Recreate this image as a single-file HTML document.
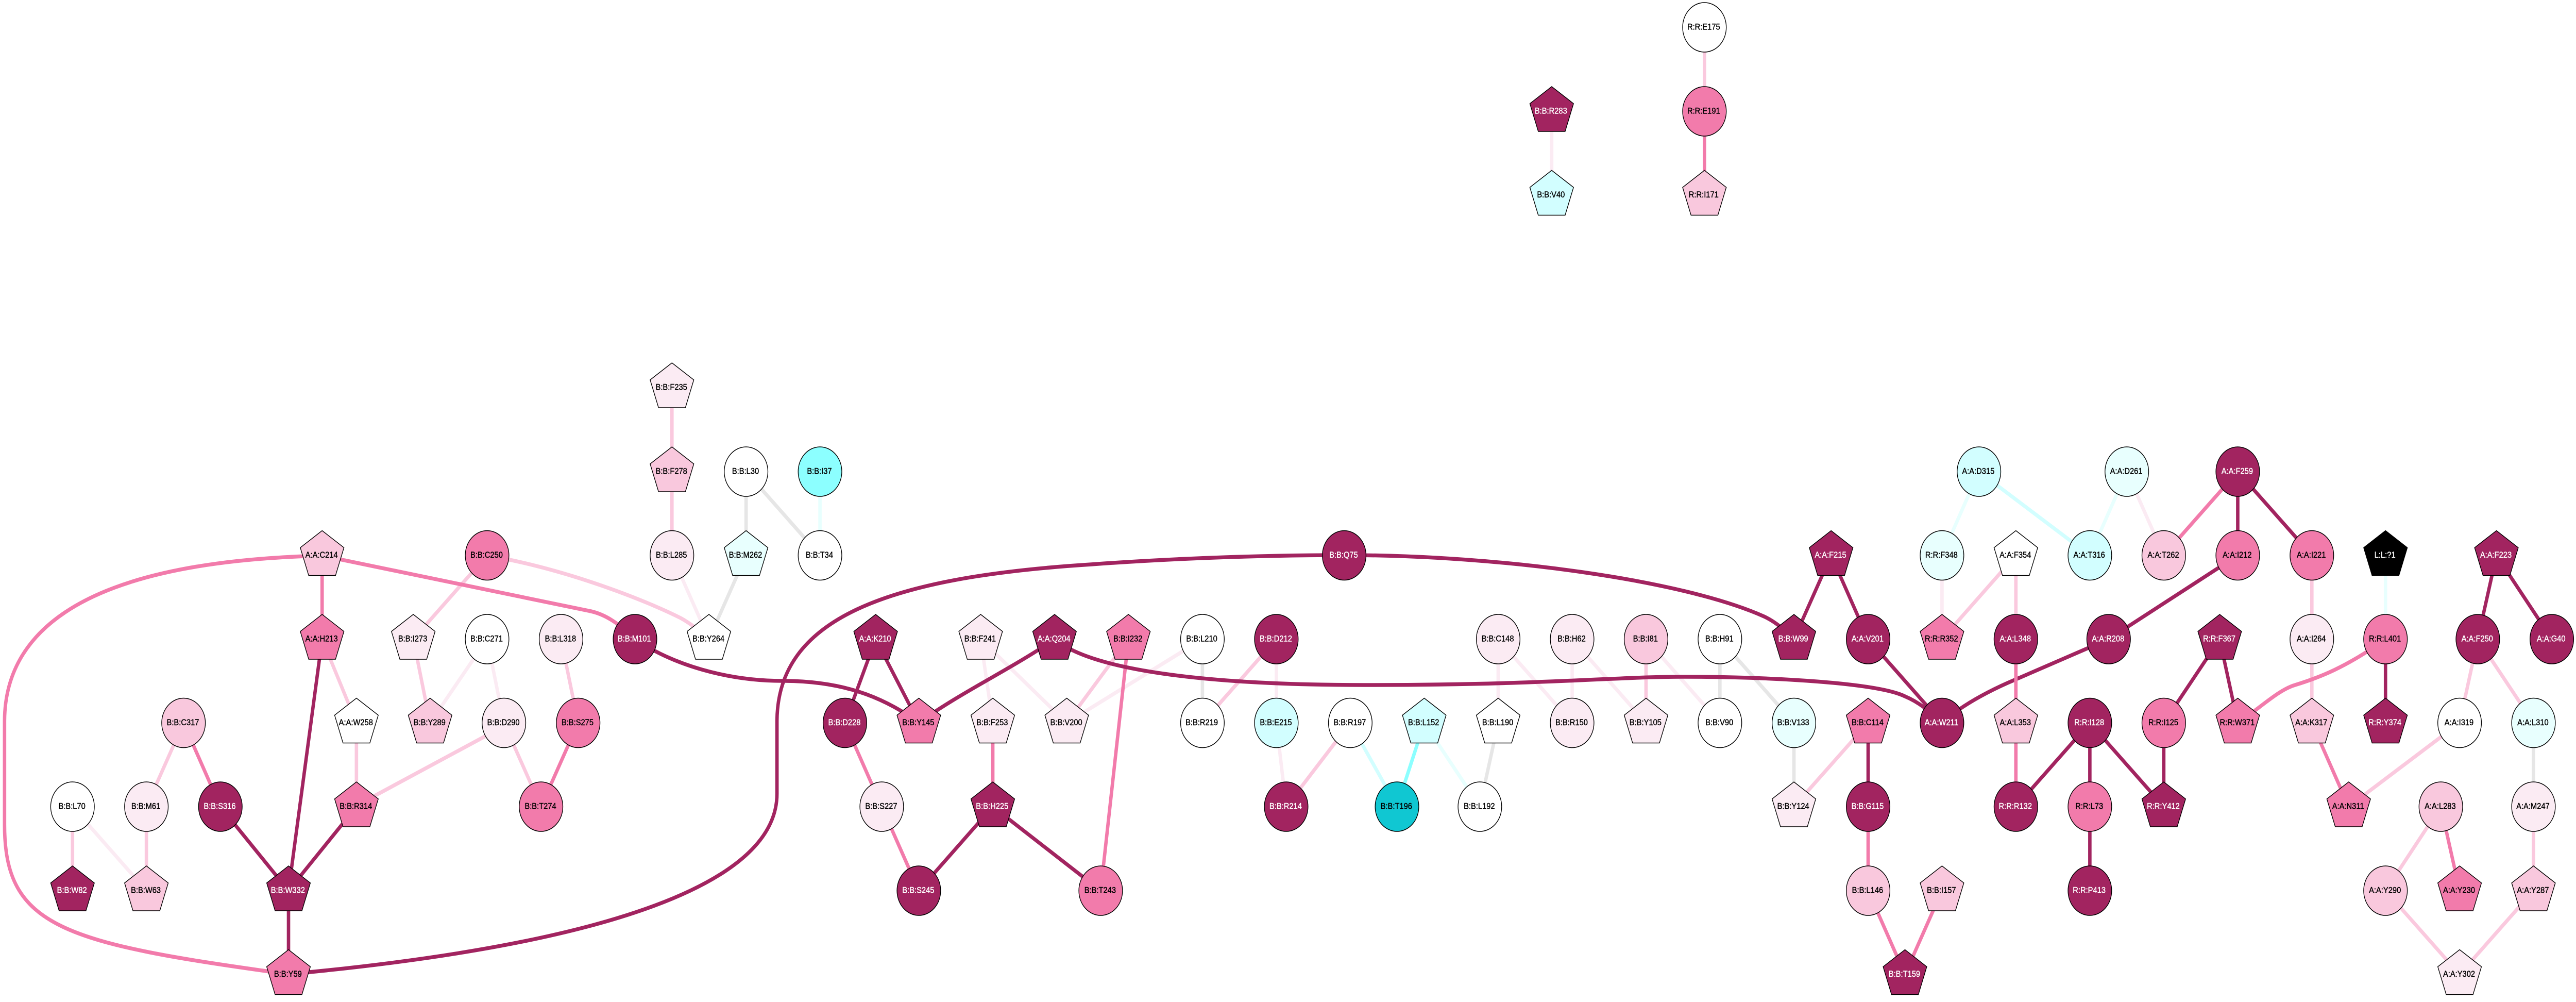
<!DOCTYPE html>
<html><head><meta charset="utf-8"><title>Residue network</title>
<style>
html,body{margin:0;padding:0;background:#fff;width:100%;height:100%;overflow:hidden}
svg{display:block;width:100%;height:100%}
path.e{fill:none;stroke-width:7.5}
.sg{stroke:#e6e6e6}.se{stroke:#e8fffe}.sc{stroke:#d2feff}.sb{stroke:#8cffff}.sv{stroke:#fbebf3}.sl{stroke:#fac9de}.sm{stroke:#f27bab}.sd{stroke:#a22460}
.n use,.n circle{stroke:#000;stroke-width:1.5}
.d{fill:#a22460}.m{fill:#f27bab}.l{fill:#f9c8dd}.v{fill:#fbebf3}.w{fill:#fff}.c{fill:#d2feff}.f{fill:#e8fffe}.b{fill:#8cffff}.t{fill:#10c7d2}.k{fill:#000}
text{font-family:"Liberation Sans",sans-serif;font-size:16.67px;text-anchor:middle;fill:#000;stroke:#000;stroke-width:.4;transform:translate(-.7px,-.8px)}
text.x{fill:#fff;stroke:#fff}
</style></head><body>
<svg viewBox="0 0 5666 1944" preserveAspectRatio="none" xmlns="http://www.w3.org/2000/svg">
<defs><polygon id="p" points="0,-48 48,-15 29.5,39 -29.5,39 -48,-15"/></defs>
<rect width="5666" height="1944" fill="#fff"/>

<path class="e sg" d="M1641 915V1077.5M1641 915L1803.6 1077.5M1641 1077.5L1559.3 1240M2644.8 1240V1402.5M3295.3 1402.5L3255 1565M3783 1240V1402.5M3783 1240L3945.8 1402.5M3945.8 1402.5V1565M5572.5 1402.5V1565"/>
<path class="e se" d="M1803.6 915V1077.5M3132.7 1402.5L3255 1565M4352.8 915L4271.5 1077.5M4678 915L4596.7 1077.5M5247 1077.5V1240"/>
<path class="e sc" d="M2970 1402.5L3072.7 1565M4352.8 915L4596.7 1077.5"/>
<path class="e sb" d="M3132.7 1402.5L3072.7 1565"/>
<path class="e sv" d="M159.5 1565L322 1728M1071.4 1240L946 1402.5M1071.4 1240L1108.4 1402.5M1478 1077.5L1559.3 1240M3413 216V378.5M2157 1240L2183.7 1402.5M2157 1240L2346.3 1402.5M2644.8 1240L2346.3 1402.5M2807.4 1240V1402.5M2807.4 1402.5L2829 1565M3295.3 1240V1402.5M3295.3 1240L3458 1402.5M3458 1240V1402.5M3458 1240L3620.5 1402.5M3620.5 1240L3783 1402.5M4678 915L4759.3 1077.5M4271.5 1077.5V1240"/>
<path class="e sl" d="M708.5 1240L784 1402.5M784 1402.5V1565M784 1563L1108 1409M403.7 1402.5L322 1565M159.5 1565V1728M322 1565V1728M909 1240L1071.4 1077.5M909 1240L946 1402.5M1234 1240L1271.7 1402.5M1108.4 1402.5L1190 1565M1071 1077.5C1250 1105 1420 1165 1497 1199C1520 1210 1540 1225 1559 1240M1478 752V915M1478 915V1077.5M3749 53V216M2482 1240L2346.3 1402.5M2807.4 1240L2644.8 1402.5M2970 1402.5L2829 1565M3620.5 1240V1402.5M4109 1402.5L3945.8 1565M4434 1077.5L4271.5 1240M4434 1077.5V1240M5085 1077.5V1240M5085 1240V1402.5M5410 1402.5L5166 1565M5450 1240L5410 1402.5M5450 1240L5572.5 1402.5M5572.5 1565V1728M5368.7 1565L5247 1728M5247 1728L5410 1890.5M5572.5 1728L5410 1890.5"/>
<path class="e sd" d="M4638 1240L4434 1318C4380 1338 4320 1365 4271 1402"/>
<path class="e sm" d="M708.5 1077.5V1240M708 1078L1300 1186C1330 1192 1360 1208 1396 1240M708 1078C420 1085 10 1130 10 1400L10 1600C10 1800 140 1830 634 1890M403.7 1402.5L484.7 1565M1271.7 1402.5L1190 1565M1858.4 1402.5L1939.4 1565M1939.4 1565L2021 1728M2183.7 1402.5V1565M2482 1240L2421 1728M3749 216V378.5M4109 1565V1728M4109 1728L4190 1890.5M4271.5 1728L4190 1890.5M4434 1402.5V1565M4434 1240V1402.5M5085 1402.5L5166 1565M4922 915L4759.3 1077.5M5247 1240C5160 1295 5100 1315 5048 1329C5010 1339 4970 1375 4922 1402M5368.7 1565L5410 1728"/>
<path class="e sd" d="M708.5 1240L634.6 1728M484.7 1565L634.6 1728M784 1565L634.6 1728M634.6 1728V1890.5M634 1890C1000 1860 1709 1780 1709 1540L1709 1400C1709 1200 1950 1120 2400 1095C2600 1082 2800 1077 2957 1077M2957 1077C3300 1077 3700 1125 3880 1196C3905 1206 3925 1222 3946 1240M1397 1240C1480 1290 1600 1321 1720 1321C1850 1321 1940 1350 2021 1402M1926 1240L1858.4 1402.5M1926 1240L2021 1402.5M2320 1240C2220 1300 2120 1340 2021 1402M2320 1240C2400 1300 2650 1329 3000 1329C3400 1329 3550 1313 3700 1313C3900 1313 4130 1325 4190 1351C4220 1362 4245 1380 4271 1402M2183.7 1565L2021 1728M2183.7 1565L2421 1728M4109 1402.5V1565M4027.6 1077.5L3945.8 1240M4027.6 1077.5L4109 1240M4109 1240L4271.5 1402.5M4638 1240L4922 1077.5M4596.7 1402.5L4434 1565M4596.7 1402.5V1565M4596.7 1402.5L4759.3 1565M4596.7 1565V1728M4759.3 1402.5V1565M4882.3 1240L4759.3 1402.5M4882.3 1240L4922 1402.5M4922 915V1077.5M4922 915L5085 1077.5M5247 1240V1402.5M5491 1077.5L5450 1240M5491 1077.5L5612.8 1240"/>

<g class="n">
<use href="#p" x="3413" y="216" class="d"/><text class="x" x="3412" y="221.5">B:B:R283</text>
<use href="#p" x="3413" y="378.5" class="c"/><text x="3412" y="384">B:B:V40</text>
<circle cx="3749" cy="53" r="48" class="w"/><text x="3748" y="58.5">R:R:E175</text>
<circle cx="3749" cy="216" r="48" class="m"/><text x="3748" y="221.5">R:R:E191</text>
<use href="#p" x="3749" y="378.5" class="l"/><text x="3748" y="384">R:R:I171</text>

<use href="#p" x="708.5" y="1077.5" class="l"/><text x="708" y="1083">A:A:C214</text>
<use href="#p" x="708.5" y="1240" class="m"/><text x="708" y="1245.5">A:A:H213</text>
<use href="#p" x="909" y="1240" class="v"/><text x="908.5" y="1245.5">B:B:I273</text>
<use href="#p" x="784" y="1402.5" class="w"/><text x="783.5" y="1408">A:A:W258</text>
<use href="#p" x="946" y="1402.5" class="l"/><text x="945.5" y="1408">B:B:Y289</text>
<circle cx="403.7" cy="1402.5" r="48" class="l"/><text x="403" y="1408">B:B:C317</text>
<circle cx="159.5" cy="1565" r="48" class="w"/><text x="159" y="1570.5">B:B:L70</text>
<circle cx="322" cy="1565" r="48" class="v"/><text x="321.5" y="1570.5">B:B:M61</text>
<circle cx="484.7" cy="1565" r="48" class="d"/><text class="x" x="484" y="1570.5">B:B:S316</text>
<use href="#p" x="784" y="1565" class="m"/><text x="783.5" y="1570.5">B:B:R314</text>
<use href="#p" x="159.5" y="1728" class="d"/><text class="x" x="159" y="1733.5">B:B:W82</text>
<use href="#p" x="322" y="1728" class="l"/><text x="321.5" y="1733.5">B:B:W63</text>
<use href="#p" x="634.6" y="1728" class="d"/><text class="x" x="634" y="1733.5">B:B:W332</text>
<use href="#p" x="634.6" y="1890.5" class="m"/><text x="634" y="1896">B:B:Y59</text>

<use href="#p" x="1478" y="752" class="v"/><text x="1477.5" y="757.5">B:B:F235</text>
<use href="#p" x="1478" y="915" class="l"/><text x="1477.5" y="920.5">B:B:F278</text>
<circle cx="1641" cy="915" r="48" class="w"/><text x="1640.5" y="920.5">B:B:L30</text>
<circle cx="1803.6" cy="915" r="48" class="b"/><text x="1803" y="920.5">B:B:I37</text>
<circle cx="1071.4" cy="1077.5" r="48" class="m"/><text x="1071" y="1083">B:B:C250</text>
<circle cx="1478" cy="1077.5" r="48" class="v"/><text x="1477.5" y="1083">B:B:L285</text>
<use href="#p" x="1641" y="1077.5" class="f"/><text x="1640.5" y="1083">B:B:M262</text>
<circle cx="1803.6" cy="1077.5" r="48" class="w"/><text x="1803" y="1083">B:B:T34</text>
<circle cx="1071.4" cy="1240" r="48" class="w"/><text x="1071" y="1245.5">B:B:C271</text>
<circle cx="1234" cy="1240" r="48" class="v"/><text x="1233.5" y="1245.5">B:B:L318</text>
<circle cx="1396.7" cy="1240" r="48" class="d"/><text class="x" x="1396" y="1245.5">B:B:M101</text>
<use href="#p" x="1559.3" y="1240" class="w"/><text x="1559" y="1245.5">B:B:Y264</text>
<use href="#p" x="1926" y="1240" class="d"/><text class="x" x="1925.5" y="1245.5">A:A:K210</text>
<circle cx="1108.4" cy="1402.5" r="48" class="v"/><text x="1108" y="1408">B:B:D290</text>
<circle cx="1271.7" cy="1402.5" r="48" class="m"/><text x="1271" y="1408">B:B:S275</text>
<circle cx="1858.4" cy="1402.5" r="48" class="d"/><text class="x" x="1858" y="1408">B:B:D228</text>
<circle cx="1190" cy="1565" r="48" class="m"/><text x="1189.5" y="1570.5">B:B:T274</text>
<circle cx="1939.4" cy="1565" r="48" class="v"/><text x="1939" y="1570.5">B:B:S227</text>

<circle cx="2956.6" cy="1077.5" r="48" class="d"/><text class="x" x="2956" y="1083">B:B:Q75</text>
<use href="#p" x="2157" y="1240" class="v"/><text x="2156.5" y="1245.5">B:B:F241</text>
<use href="#p" x="2319.5" y="1240" class="d"/><text class="x" x="2319" y="1245.5">A:A:Q204</text>
<use href="#p" x="2482" y="1240" class="m"/><text x="2481.5" y="1245.5">B:B:I232</text>
<circle cx="2644.8" cy="1240" r="48" class="w"/><text x="2644" y="1245.5">B:B:L210</text>
<circle cx="2807.4" cy="1240" r="48" class="d"/><text class="x" x="2807" y="1245.5">B:B:D212</text>
<use href="#p" x="2021" y="1402.5" class="m"/><text x="2020.5" y="1408">B:B:Y145</text>
<use href="#p" x="2183.7" y="1402.5" class="v"/><text x="2183" y="1408">B:B:F253</text>
<use href="#p" x="2346.3" y="1402.5" class="v"/><text x="2346" y="1408">B:B:V200</text>
<circle cx="2644.8" cy="1402.5" r="48" class="w"/><text x="2644" y="1408">B:B:R219</text>
<circle cx="2807.4" cy="1402.5" r="48" class="c"/><text x="2807" y="1408">B:B:E215</text>
<circle cx="2970" cy="1402.5" r="48" class="w"/><text x="2969.5" y="1408">B:B:R197</text>
<use href="#p" x="2183.7" y="1565" class="d"/><text class="x" x="2183" y="1570.5">B:B:H225</text>
<circle cx="2829" cy="1565" r="48" class="d"/><text class="x" x="2828.5" y="1570.5">B:B:R214</text>
<circle cx="2021" cy="1728" r="48" class="d"/><text class="x" x="2020.5" y="1733.5">B:B:S245</text>
<circle cx="2421" cy="1728" r="48" class="m"/><text x="2420.5" y="1733.5">B:B:T243</text>

<circle cx="3295.3" cy="1240" r="48" class="v"/><text x="3295" y="1245.5">B:B:C148</text>
<circle cx="3458" cy="1240" r="48" class="v"/><text x="3457.5" y="1245.5">B:B:H62</text>
<circle cx="3620.5" cy="1240" r="48" class="l"/><text x="3620" y="1245.5">B:B:I81</text>
<circle cx="3783" cy="1240" r="48" class="w"/><text x="3782.5" y="1245.5">B:B:H91</text>
<use href="#p" x="3945.8" y="1240" class="d"/><text class="x" x="3945" y="1245.5">B:B:W99</text>
<use href="#p" x="3132.7" y="1402.5" class="c"/><text x="3132" y="1408">B:B:L152</text>
<use href="#p" x="3295.3" y="1402.5" class="w"/><text x="3295" y="1408">B:B:L190</text>
<circle cx="3458" cy="1402.5" r="48" class="v"/><text x="3457.5" y="1408">B:B:R150</text>
<use href="#p" x="3620.5" y="1402.5" class="v"/><text x="3620" y="1408">B:B:Y105</text>
<circle cx="3783" cy="1402.5" r="48" class="w"/><text x="3782.5" y="1408">B:B:V90</text>
<circle cx="3945.8" cy="1402.5" r="48" class="f"/><text x="3945" y="1408">B:B:V133</text>
<circle cx="3072.7" cy="1565" r="48" class="t"/><text x="3072" y="1570.5">B:B:T196</text>
<circle cx="3255" cy="1565" r="48" class="w"/><text x="3254.5" y="1570.5">B:B:L192</text>
<use href="#p" x="3945.8" y="1565" class="v"/><text x="3945" y="1570.5">B:B:Y124</text>

<circle cx="4352.8" cy="915" r="48" class="c"/><text x="4352" y="920.5">A:A:D315</text>
<circle cx="4678" cy="915" r="48" class="f"/><text x="4677.5" y="920.5">A:A:D261</text>
<use href="#p" x="4027.6" y="1077.5" class="d"/><text class="x" x="4027" y="1083">A:A:F215</text>
<circle cx="4271.5" cy="1077.5" r="48" class="f"/><text x="4271" y="1083">R:R:F348</text>
<use href="#p" x="4434" y="1077.5" class="w"/><text x="4433.5" y="1083">A:A:F354</text>
<circle cx="4596.7" cy="1077.5" r="48" class="c"/><text x="4596" y="1083">A:A:T316</text>
<circle cx="4759.3" cy="1077.5" r="48" class="l"/><text x="4759" y="1083">A:A:T262</text>
<circle cx="4109" cy="1240" r="48" class="d"/><text class="x" x="4108.5" y="1245.5">A:A:V201</text>
<use href="#p" x="4271.5" y="1240" class="m"/><text x="4271" y="1245.5">R:R:R352</text>
<circle cx="4434" cy="1240" r="48" class="d"/><text class="x" x="4433.5" y="1245.5">A:A:L348</text>
<circle cx="4638" cy="1240" r="48" class="d"/><text class="x" x="4637.5" y="1245.5">A:A:R208</text>
<use href="#p" x="4109" y="1402.5" class="m"/><text x="4108.5" y="1408">B:B:C114</text>
<circle cx="4271.5" cy="1402.5" r="48" class="d"/><text class="x" x="4271" y="1408">A:A:W211</text>
<use href="#p" x="4434" y="1402.5" class="l"/><text x="4433.5" y="1408">A:A:L353</text>
<circle cx="4596.7" cy="1402.5" r="48" class="d"/><text class="x" x="4596" y="1408">R:R:I128</text>
<circle cx="4759.3" cy="1402.5" r="48" class="m"/><text x="4759" y="1408">R:R:I125</text>
<circle cx="4109" cy="1565" r="48" class="d"/><text class="x" x="4108.5" y="1570.5">B:B:G115</text>
<circle cx="4434" cy="1565" r="48" class="d"/><text class="x" x="4433.5" y="1570.5">R:R:R132</text>
<circle cx="4596.7" cy="1565" r="48" class="m"/><text x="4596" y="1570.5">R:R:L73</text>
<use href="#p" x="4759.3" y="1565" class="d"/><text class="x" x="4759" y="1570.5">R:R:Y412</text>
<circle cx="4109" cy="1728" r="48" class="l"/><text x="4108.5" y="1733.5">B:B:L146</text>
<use href="#p" x="4271.5" y="1728" class="l"/><text x="4271" y="1733.5">B:B:I157</text>
<circle cx="4596.7" cy="1728" r="48" class="d"/><text class="x" x="4596" y="1733.5">R:R:P413</text>
<use href="#p" x="4190" y="1890.5" class="d"/><text class="x" x="4189.5" y="1896">B:B:T159</text>

<circle cx="4922" cy="915" r="48" class="d"/><text class="x" x="4921.5" y="920.5">A:A:F259</text>
<circle cx="4922" cy="1077.5" r="48" class="m"/><text x="4921.5" y="1083">A:A:I212</text>
<circle cx="5085" cy="1077.5" r="48" class="m"/><text x="5084.5" y="1083">A:A:I221</text>
<use href="#p" x="5247" y="1077.5" class="k"/><text class="x" x="5246.5" y="1083">L:L:?1</text>
<use href="#p" x="5491" y="1077.5" class="d"/><text class="x" x="5490.5" y="1083">A:A:F223</text>
<use href="#p" x="4882.3" y="1240" class="d"/><text class="x" x="4882" y="1245.5">R:R:F367</text>
<circle cx="5085" cy="1240" r="48" class="v"/><text x="5084.5" y="1245.5">A:A:I264</text>
<circle cx="5247" cy="1240" r="48" class="m"/><text x="5246.5" y="1245.5">R:R:L401</text>
<circle cx="5450" cy="1240" r="48" class="d"/><text class="x" x="5449.5" y="1245.5">A:A:F250</text>
<circle cx="5612.8" cy="1240" r="48" class="d"/><text class="x" x="5612" y="1245.5">A:A:G40</text>
<use href="#p" x="4922" y="1402.5" class="m"/><text x="4921.5" y="1408">R:R:W371</text>
<use href="#p" x="5085" y="1402.5" class="l"/><text x="5084.5" y="1408">A:A:K317</text>
<use href="#p" x="5247" y="1402.5" class="d"/><text class="x" x="5246.5" y="1408">R:R:Y374</text>
<circle cx="5410" cy="1402.5" r="48" class="w"/><text x="5409.5" y="1408">A:A:I319</text>
<circle cx="5572.5" cy="1402.5" r="48" class="f"/><text x="5572" y="1408">A:A:L310</text>
<use href="#p" x="5166" y="1565" class="m"/><text x="5165.5" y="1570.5">A:A:N311</text>
<circle cx="5368.7" cy="1565" r="48" class="l"/><text x="5368" y="1570.5">A:A:L283</text>
<circle cx="5572.5" cy="1565" r="48" class="v"/><text x="5572" y="1570.5">A:A:M247</text>
<circle cx="5247" cy="1728" r="48" class="l"/><text x="5246.5" y="1733.5">A:A:Y290</text>
<use href="#p" x="5410" y="1728" class="m"/><text x="5409.5" y="1733.5">A:A:Y230</text>
<use href="#p" x="5572.5" y="1728" class="l"/><text x="5572" y="1733.5">A:A:Y287</text>
<use href="#p" x="5410" y="1890.5" class="v"/><text x="5409.5" y="1896">A:A:Y302</text>
</g>
</svg>
</body></html>
